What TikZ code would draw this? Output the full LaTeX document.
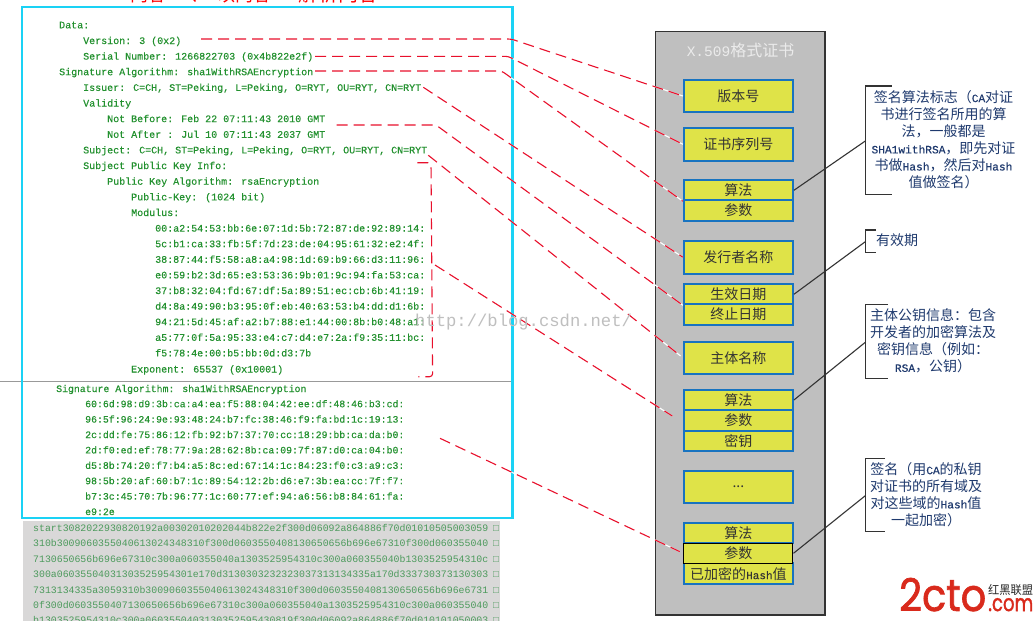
\documentclass[tikz,border=0pt]{standalone}
\usepackage{fontspec}
\usepackage{graphicx}
\setmainfont{Liberation Serif}
\newfontfamily\monof{Liberation Mono}
\newfontfamily\monoh{Liberation Mono}[FakeBold=0.35]
\newfontfamily\hanf{Noto Sans CJK SC}
\newfontfamily\logof{Poppins}[FakeBold=1.6]
\definecolor{certgreen}{HTML}{23912F}
\definecolor{dumpgreen}{HTML}{4C9A5C}
\definecolor{dumpgrey}{HTML}{D9D8D8}
\definecolor{framecyan}{HTML}{1AD2F5}
\definecolor{linkred}{HTML}{E8102C}
\definecolor{fieldyellow}{HTML}{DFE348}
\definecolor{fieldblue}{HTML}{1873C0}
\definecolor{notenavy}{HTML}{1F3A6E}
\definecolor{logored}{HTML}{D92A1C}
\newcommand{\lat}[1]{{\monoh\fontsize{11.2}{12}\selectfont #1}}
\tikzset{
  cert/.style={anchor=base west,inner sep=0pt,text=certgreen,font=\monoh\fontsize{10}{12}\selectfont},
  certb/.style={anchor=base west,inner sep=0pt,text=certgreen,font=\monoh\fontsize{9.85}{12}\selectfont},
  dump/.style={anchor=base west,inner sep=0pt,text=dumpgreen,font=\monof\fontsize{9.85}{12}\selectfont},
  field/.style={draw=fieldblue,fill=fieldyellow,line width=2pt,minimum width=109pt,inner sep=0pt,
    text=black!80,font=\hanf\fontsize{14}{16}\selectfont},
  link/.style={linkred,line width=1.1pt,dash pattern=on 11pt off 6pt,rounded corners=3pt,
    preaction={draw=white,solid,line width=1.1pt}},
  bracket/.style={draw=black!80,line width=1.1pt},
  note/.style={inner sep=0pt,text=notenavy,align=center,font=\hanf\fontsize{14}{17.1}\selectfont},
}
\begin{document}
\begin{tikzpicture}[x=1pt,y=-1pt]
\clip (0,0) rectangle (1036,621);
\fill[white] (0,0) rectangle (1036,621);

% heading, cut off by the top edge
\begin{scope}
\clip (100,0) rectangle (400,6);
\node[inner sep=0pt,anchor=base west,text=red,font=\hanf\fontsize{18}{20}\selectfont] (head1) at (130,1.5) {内容};
\node[inner sep=0pt,anchor=base west,text=red,font=\hanf\fontsize{18}{20}\selectfont] (head2) at (190,1.5) {、};
\node[inner sep=0pt,anchor=base west,text=red,font=\hanf\fontsize{18}{20}\selectfont] (head3) at (217,1.5) {以内容};
\node[inner sep=0pt,anchor=base west,text=red,font=\hanf\fontsize{20}{22}\selectfont] (head4) at (298,1.5) {解析内容};
\end{scope}

% hex dump strip under the frame
\fill[dumpgrey] (23,521) rectangle (500,621);
\foreach \yy/\txt [count=\i] in {
  531/start3082022930820192a00302010202044b822e2f300d06092a864886f70d01010505003059,
  546.5/310b3009060355040613024348310f300d0603550408130650656b696e67310f300d060355040,
  562/7130650656b696e67310c300a060355040a1303525954310c300a060355040b1303525954310c,
  577.5/300a06035504031303525954301e170d3130303232323037313134335a170d333730373130303,
  593/7313134335a3059310b3009060355040613024348310f300d0603550408130650656b696e6731,
  608/0f300d0603550407130650656b696e67310c300a060355040a1303525954310c300a060355040,
  623.5/b1303525954310c300a0603550403130352595430819f300d06092a864886f70d010101050003}{
  \node[dump] (dump\i) at (33,\yy) {\txt};
  \node[dump] (box\i) at (493,\yy) {□};
}

% decoded certificate text
\node[cert] (data) at (59,28.3) {Data:};
\node[cert] (version) at (83,44) {Version: 3 (0x2)};
\node[cert] (serial) at (83,59.6) {Serial Number: 1266822703 (0x4b822e2f)};
\node[cert] (sigalg) at (59,75.2) {Signature Algorithm: sha1WithRSAEncryption};
\node[cert] (issuer) at (83,90.9) {Issuer: C=CH, ST=Peking, L=Peking, O=RYT, OU=RYT, CN=RYT};
\node[cert] (validity) at (83,106.5) {Validity};
\node[cert] (before) at (107,122.1) {Not Before: Feb 22 07:11:43 2010 GMT};
\node[cert] (after) at (107,137.8) {Not After : Jul 10 07:11:43 2037 GMT};
\node[cert] (subject) at (83,153.4) {Subject: C=CH, ST=Peking, L=Peking, O=RYT, OU=RYT, CN=RYT};
\node[cert] (spki) at (83,169) {Subject Public Key Info:};
\node[cert] (pka) at (107,184.7) {Public Key Algorithm: rsaEncryption};
\node[cert] (pubkey) at (131,200.3) {Public-Key: (1024 bit)};
\node[cert] (modulus) at (131,216) {Modulus:};
\foreach \yy/\txt [count=\i] in {
  231.6/00:a2:54:53:bb:6e:07:1d:5b:72:87:de:92:89:14:,
  247.2/5c:b1:ca:33:fb:5f:7d:23:de:04:95:61:32:e2:4f:,
  262.8/38:87:44:f5:58:a8:a4:98:1d:69:b9:66:d3:11:96:,
  278.4/e0:59:b2:3d:65:e3:53:36:9b:01:9c:94:fa:53:ca:,
  294/37:b8:32:04:fd:67:df:5a:89:51:ec:cb:6b:41:19:,
  309.6/d4:8a:49:90:b3:95:0f:eb:40:63:53:b4:dd:d1:6b:,
  325.2/94:21:5d:45:af:a2:b7:88:e1:44:00:8b:b0:48:a1:,
  340.8/a5:77:0f:5a:95:33:e4:c7:d4:e7:2a:f9:35:11:bc:,
  356.4/f5:78:4e:00:b5:bb:0d:d3:7b}{
  \node[cert] (mod\i) at (155,\yy) {\txt};
}
\node[cert] (exponent) at (131,372.5) {Exponent: 65537 (0x10001)};

\node[certb] (sigalgb) at (56,392) {Signature Algorithm: sha1WithRSAEncryption};
\foreach \yy/\txt [count=\i] in {
  407.2/60:6d:98:d9:3b:ca:a4:ea:f5:88:04:42:ee:df:48:46:b3:cd:,
  422.6/96:5f:96:24:9e:93:48:24:b7:fc:38:46:f9:fa:bd:1c:19:13:,
  438/2c:dd:fe:75:86:12:fb:92:b7:37:70:cc:18:29:bb:ca:da:b0:,
  453.4/2d:f0:ed:ef:78:77:9a:28:62:8b:ca:09:7f:87:d0:ca:04:b0:,
  468.8/d5:8b:74:20:f7:b4:a5:8c:ed:67:14:1c:84:23:f0:c3:a9:c3:,
  484.2/98:5b:20:af:60:b7:1c:89:54:12:2b:d6:e7:3b:ea:cc:7f:f7:,
  499.6/b7:3c:45:70:7b:96:77:1c:60:77:ef:94:a6:56:b8:84:61:fa:,
  515/e9:2e}{
  \node[certb] (sig\i) at (85,\yy) {\txt};
}

% frame and divider
\draw[gray!80,line width=1.3pt] (0,381.7) -- (512,381.7);
\draw[framecyan,line width=2.8pt] (22,7) rectangle (512.7,518);

% certificate layout column
\draw[black!80,fill=black!25,line width=1.4pt] (655.7,31.5) rectangle (825,615);
\node[inner sep=0pt,text=white!92!black,font=\hanf\fontsize{16}{18}\selectfont] (title) at (740.5,50)
  {{\monof\fontsize{14.5}{16}\selectfont X.509}格式证书};

\node[field,minimum height=32.6pt] (ver) at (738.4,96) {版本号};
\node[field,minimum height=32.6pt] (ser) at (738.4,144.3) {证书序列号};
\node[field,minimum height=20pt] (alg) at (738.4,190.3) {算法};
\node[field,minimum height=20.7pt] (par) at (738.4,210.6) {参数};
\node[field,minimum height=33pt] (iss) at (738.4,257.2) {发行者名称};
\node[field,minimum height=20pt] (nbf) at (738.4,294.3) {生效日期};
\node[field,minimum height=20.4pt] (naf) at (738.4,314.5) {终止日期};
\node[field,minimum height=32.3pt] (sub) at (738.4,357.8) {主体名称};
\node[field,minimum height=20pt] (kalg) at (738.4,400) {算法};
\node[field,minimum height=20.7pt] (kpar) at (738.4,420.3) {参数};
\node[field,minimum height=20pt] (kkey) at (738.4,440.7) {密钥};
\node[field,minimum height=32.6pt] (more) at (738.4,487) {...};
\node[field,minimum height=20pt] (salg) at (738.4,533.3) {算法};
\node[field,minimum height=20.7pt] (hash) at (738.4,573.7) {已加密的{\monoh\fontsize{11}{12}\selectfont Hash}值};
\node[field,draw=black,line width=1.1pt,minimum height=20pt] (spar) at (738.4,553.3) {参数};

% notes with their brackets
\coordinate (n1a) at (891.7,86);   \coordinate (n1b) at (865.3,86);
\coordinate (n1c) at (865.3,194.3); \coordinate (n1d) at (891.7,194.3);
\coordinate (n1m) at (865.3,141);
\draw[bracket] (n1a) -- (n1b) -- (n1c) -- (n1d);
\draw[bracket] (alg.east) -- (n1m);
\node[note] (note1) at (943.5,139.5) {签名算法标志（\lat{CA}对证\\书进行签名所用的算\\法，一般都是\\\lat{SHA1withRSA}，即先对证\\书做\lat{Hash}，然后对\lat{Hash}\\值做签名）};

\coordinate (n2a) at (876,230);   \coordinate (n2b) at (865.3,230);
\coordinate (n2c) at (865.3,252.7); \coordinate (n2d) at (876,252.7);
\coordinate (n2m) at (865.3,241.7);
\draw[bracket] (n2a) -- (n2b) -- (n2c) -- (n2d);
\draw[bracket] (nbf.east) -- (n2m);
\node[note] (note2) at (897,240) {有效期};

\coordinate (n3a) at (888,304.7);   \coordinate (n3b) at (865.3,304.7);
\coordinate (n3c) at (865.3,378.7); \coordinate (n3d) at (888,378.7);
\coordinate (n3m) at (865.3,342.3);
\draw[bracket] (n3a) -- (n3b) -- (n3c) -- (n3d);
\draw[bracket] (kalg.east) -- (n3m);
\node[note] (note3) at (933,341) {主体公钥信息：包含\\开发者的加密算法及\\密钥信息（例如：\\\lat{RSA}，公钥）};

\coordinate (n4a) at (885,458.3);   \coordinate (n4b) at (865.3,458.3);
\coordinate (n4c) at (865.3,531.7); \coordinate (n4d) at (885,531.7);
\coordinate (n4m) at (865.3,495.7);
\draw[bracket] (n4a) -- (n4b) -- (n4c) -- (n4d);
\draw[bracket] (spar.east) -- (n4m);
\node[note] (note4) at (926,494.5) {签名（用\lat{CA}的私钥\\对证书的所有域及\\对这些域的\lat{Hash}值\\一起加密）};

% dashed links from the decoded text to the fields
\coordinate (s1) at (201,39);    \coordinate (k1) at (511,39);
\coordinate (s2) at (315,56.3);  \coordinate (k2) at (508,56.3);
\coordinate (s3) at (315,71);    \coordinate (k3) at (501.7,71);
\coordinate (s4) at (423.3,87.3);
\coordinate (s5) at (336.7,125); \coordinate (k5) at (436,125);
\coordinate (s6) at (428.3,155.3);
\coordinate (s7) at (417.3,162.7); \coordinate (k7a) at (431,162.7);
\coordinate (k7b) at (432.6,376.7); \coordinate (e7) at (418.3,376.7);
\coordinate (s8) at (435,265);    \coordinate (e8) at (672.3,416);
\coordinate (s9) at (440,438.3);

\draw[link] (s1) -- (k1) -- (ver.west);
\draw[link] (s2) -- (k2) -- (ser.west);
\draw[link] (s3) -- (k3) -- (alg.south west);
\draw[link] (s4) -- (iss.west);
\draw[link] (s5) -- (k5) -- (nbf.south west);
\draw[link,shorten >=3pt] (s6) -- (sub.west);
\draw[link] (s7) -- (k7a) -- (k7b) -- (e7);
\draw[link] (s8) -- (e8);
\draw[link,shorten >=4pt] (s9) -- (spar.west);

% blog address laid over the picture
\node[inner sep=0pt,anchor=base west,text=black!25,font=\monof\fontsize{17.2}{20}\selectfont] (addr) at (415,326.5) {http://blog.csdn.net/};

% site logo
\node[inner sep=0pt,anchor=south west,text=logored] (logomain) at (899,611.5)
  {\resizebox{87pt}{33pt}{\logof 2cto}};
\node[inner sep=0pt,anchor=south west,text=logored] (logocom) at (988,611.5)
  {\resizebox{45pt}{13pt}{\logof .com}};
\node[inner sep=0pt,anchor=south west,text=black!85] (logocn) at (988,596)
  {\resizebox{45pt}{10pt}{\hanf 红黑联盟}};
\end{tikzpicture}
\end{document}
